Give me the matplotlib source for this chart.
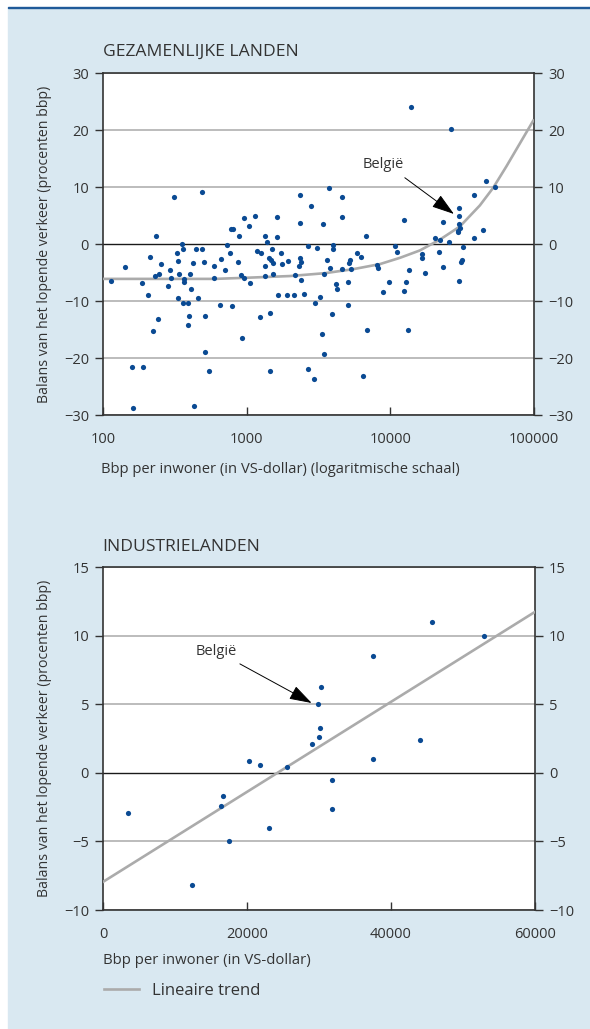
import matplotlib
matplotlib.use('Agg')
import matplotlib.pyplot as plt
from matplotlib.patches import Rectangle
from matplotlib.ticker import NullLocator

plt.rcParams['font.family'] = ['Open Sans', 'DejaVu Sans']

# ---- all countries: GDP per head (USD, log) vs current account (% GDP) ----
all_gdp = [312, 491, 234, 352, 361, 330, 444, 486, 213, 334, 142, 253, 426, 505, 596,
           292, 231, 244, 299, 340, 368, 368, 403, 592, 113, 187, 285, 407, 207, 334,
           456, 361, 388, 241, 395, 515, 390, 222, 515, 159, 189, 547, 163, 432,
           2350, 2805, 1148, 953, 1618, 2350, 3419, 1038, 778, 807, 879, 1343, 1618, 1387,
           726, 2686, 3069, 1500, 1174, 1259, 766, 1742, 1422, 1476, 1524, 2350, 2377, 2328,
           1941, 1772, 667, 867, 1349, 706, 908, 959, 1343, 1535, 2173, 2404, 1054, 3467,
           1662, 1901, 2148, 2507, 3236, 3005, 653, 787, 1455, 1246, 933, 3365, 3475, 1455,
           2686, 2924,
           3740, 4627, 4577, 12440, 6761, 4010, 3966, 10720, 11180, 5821, 6237, 3624, 5238,
           5117, 3776, 4577, 5346, 8017, 8147, 13550, 17490, 4159, 4246, 5070, 9772, 12770,
           8834, 12500, 5046, 3899, 6839, 13330, 6412, 16740, 16670, 13900,
           26400, 46000, 53200, 38000, 30200, 30060, 23400, 30200, 30340, 29380, 29800,
           44200, 38000, 20560, 22030, 25700, 31840, 21800, 31500, 30830, 23250, 30200]
all_bal = [8.2, 9.1, 1.5, 0.1, -0.8, -1.6, -0.8, -0.9, -2.3, -2.9, -4.1, -3.4, -3.3, -3.2, -3.8,
           -4.5, -5.6, -5.3, -5.9, -5.2, -6.2, -6.7, -5.3, -5.9, -6.5, -6.8, -7.3, -7.8, -9.0, -9.4,
           -9.4, -10.4, -10.4, -13.2, -12.7, -12.6, -14.2, -15.2, -18.9, -21.5, -21.5, -22.2, -28.8, -28.5,
           8.6, 6.7, 5.0, 4.6, 4.8, 3.7, 3.6, 3.2, 2.6, 2.6, 1.5, 1.5, 1.2, 0.4,
           -0.2, -0.4, -0.7, -0.8, -1.2, -1.6, -1.5, -1.6, -2.4, -2.7, -3.3, -2.4, -3.2, -3.9,
           -2.9, -3.5, -2.6, -3.1, -3.8, -4.5, -5.5, -5.9, -5.6, -5.2, -5.5, -6.3, -6.8, -5.2,
           -9.0, -8.9, -8.9, -8.7, -9.3, -10.3, -10.7, -10.8, -12.1, -12.8, -16.4, -15.7, -19.3, -22.3,
           -22.0, -23.6,
           9.9, 8.2, 4.8, 4.3, 1.4, -0.1, -0.8, -0.4, -1.4, -1.5, -2.3, -2.8, -2.8,
           -3.3, -4.2, -4.3, -4.3, -3.7, -4.2, -4.5, -5.0, -7.0, -7.8, -6.7, -6.7, -6.7,
           -8.4, -8.3, -10.6, -12.2, -15.1, -15.1, -23.1, -1.7, -2.4, 24.0,
           20.3, 11.1, 10.1, 8.6, 6.4, 5.0, 3.9, 3.5, 2.8, 2.3, 2.1,
           2.5, 1.0, 1.0, 0.7, 0.4, -0.5, -1.4, -2.7, -3.1, -4.0, -6.4]
all_trend_gdp = [100, 600, 1000, 2000, 3500, 5500, 8470, 11670, 16070, 22130,
                 30480, 41990, 52000, 64400, 79800, 98900]
all_trend_bal = [-6.1, -6.1, -5.9, -5.6, -5.1, -4.4, -3.5, -2.4, -1.1, 0.8,
                 3.1, 6.8, 9.9, 13.7, 17.7, 21.7]

# ---- industrial countries: GDP per head (USD) vs current account ----
ind_gdp = [3470, 12360, 16430, 16620, 17450, 20230, 21850, 23060, 25510, 28980, 29950,
           30140, 29860, 30230, 31760, 31860, 37450, 37450, 44080, 45700, 52920]
ind_bal = [-2.95, -8.2, -2.4, -1.7, -5.0, 0.9, 0.55, -4.0, 0.4, 2.1, 2.6,
           3.3, 5.0, 6.3, -0.5, -2.6, 8.5, 1.0, 2.4, 11.0, 10.0]
ind_trend_gdp = [0, 60000]
ind_trend_bal = [-7.95, 11.75]

top_xticks = [100, 1000, 10000, 100000]
top_yticks = [-30, -20, -10, 0, 10, 20, 30]
bot_xticks = [0, 20000, 40000, 60000]
bot_yticks = [-10, -5, 0, 5, 10, 15]

PANEL = '#d9e8f1'
DOT = '#0a4a93'
GRID = '#a9a9a9'
TREND = '#ababab'
TXT = '#333333'
YLAB = 'Balans van het lopende verkeer (procenten bbp)'

W, H = 590, 1029
fig = plt.figure(figsize=(W / 100, H / 100), dpi=100)
fig.patches.append(Rectangle((8 / W, 0), 1 - 8 / W, 1 - 8.3 / H, transform=fig.transFigure,
                             color=PANEL, zorder=-10))
fig.patches.append(Rectangle((8 / W, 1 - 8.3 / H), 1 - 8 / W, 1.8 / H, transform=fig.transFigure,
                             color='#1f5a99', zorder=-9))


def style_axes(ax, yticks):
    ax.set_ylim(yticks[0], yticks[-1])
    ax.set_yticks(yticks)
    for y in yticks:
        if y != 0:
            ax.axhline(y, color=GRID, lw=1.1, zorder=1)
    ax.axhline(0, color='#1a1a1a', lw=1.0, zorder=1.5)
    ax.tick_params(axis='y', direction='out', length=6, width=1, color='#333333',
                   left=True, right=True, labelleft=True, labelright=True,
                   labelsize=10.5, labelcolor=TXT, pad=4)
    ax.tick_params(axis='x', direction='in', length=6, width=1, color='#333333',
                   labelsize=10.5, labelcolor=TXT, pad=12)
    for sp in ax.spines.values():
        sp.set_color('#333333')
        sp.set_linewidth(1.2)
    ax.set_ylabel(YLAB, fontsize=10.2, color=TXT)
    ax.yaxis.set_label_coords(-0.118, 0.5)


# top panel: all countries
ax1 = fig.add_axes([103 / W, 1 - 415 / H, 431 / W, 341.7 / H])
ax1.set_xscale('log')
ax1.set_xlim(top_xticks[0], top_xticks[-1])
ax1.set_xticks(top_xticks, labels=[str(v) for v in top_xticks])
ax1.xaxis.set_minor_locator(NullLocator())
style_axes(ax1, top_yticks)
ax1.plot(all_trend_gdp, all_trend_bal, color=TREND, lw=1.9, zorder=3)
ax1.scatter(all_gdp, all_bal, s=14, color=DOT, linewidths=0, zorder=4)
ax1.annotate('België', xy=(27700, 5.3), xytext=(8930, 13.9), ha='center', va='center',
             fontsize=10.5, color=TXT, zorder=5,
             arrowprops=dict(arrowstyle='-|>,head_length=1.4,head_width=0.45', color='black',
                             lw=0.7, mutation_scale=10, shrinkA=3, shrinkB=0, relpos=(0.85, 0)))

# bottom panel: industrial countries
ax2 = fig.add_axes([103 / W, 1 - 910 / H, 432 / W, 342.7 / H])
ax2.set_xlim(bot_xticks[0], bot_xticks[-1])
ax2.set_xticks(bot_xticks, labels=[str(v) for v in bot_xticks])
style_axes(ax2, bot_yticks)
trend_line, = ax2.plot(ind_trend_gdp, ind_trend_bal, color=TREND, lw=1.9, zorder=3)
ax2.scatter(ind_gdp, ind_bal, s=14, color=DOT, linewidths=0, zorder=4)
ax2.annotate('België', xy=(28980, 5.1), xytext=(15790, 8.85), ha='center', va='center',
             fontsize=10.5, color=TXT, zorder=5,
             arrowprops=dict(arrowstyle='-|>,head_length=1.4,head_width=0.45', color='black',
                             lw=0.7, mutation_scale=10, shrinkA=3, shrinkB=0, relpos=(0.85, 0)))

# titles and axis captions
fig.text(103 / W, 1 - 51.7 / H, 'GEZAMENLIJKE LANDEN', ha='left', va='center', fontsize=12.6, color=TXT)
fig.text(102 / W, 1 - 547 / H, 'INDUSTRIELANDEN', ha='left', va='center', fontsize=12.6, color=TXT)
fig.text(101 / W, 1 - 469.3 / H, 'Bbp per inwoner (in VS-dollar) (logaritmische schaal)',
         ha='left', va='center', fontsize=10.6, color=TXT)
fig.text(103 / W, 1 - 960 / H, 'Bbp per inwoner (in VS-dollar)',
         ha='left', va='center', fontsize=10.7, color=TXT)

fig.legend([trend_line], ['Lineaire trend'], loc='center left',
           bbox_to_anchor=(104 / W, 1 - 990.7 / H), frameon=False, borderpad=0,
           borderaxespad=0, handlelength=2.1, handletextpad=0.8, fontsize=12,
           labelcolor=TXT)

fig.savefig('out.png', dpi=100, facecolor='white')
